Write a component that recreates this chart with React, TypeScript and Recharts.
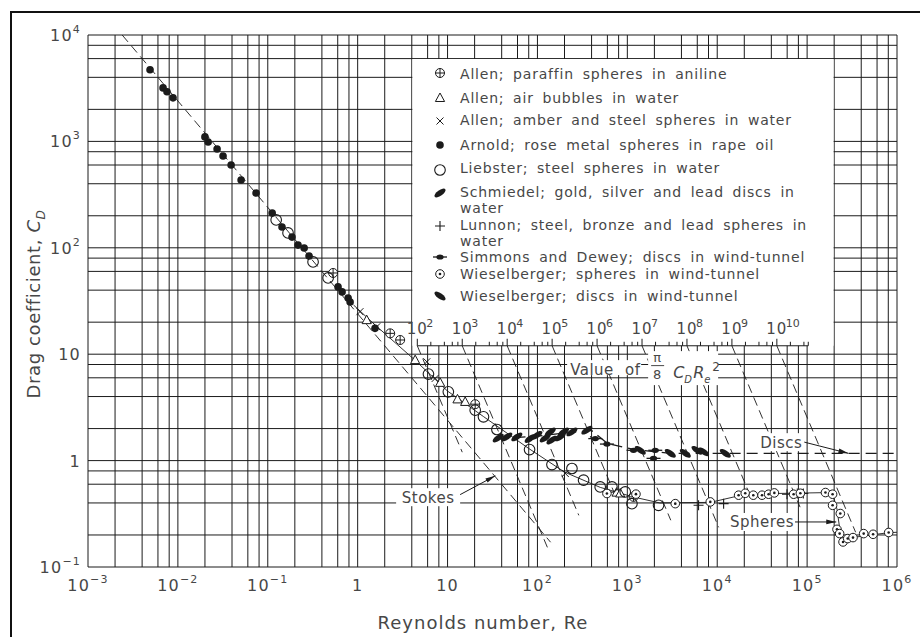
import React from "react";
import {
  ComposedChart,
  XAxis,
  YAxis,
  CartesianGrid,
  Scatter,
  Line,
  ReferenceArea,
  ReferenceLine,
  ReferenceDot,
} from "recharts";

const INK = "#1b1b1b";
const TEXT = "#474747";
const FONT = "'DejaVu Sans', sans-serif";

// axes
const xDecades = [1e-3, 1e-2, 1e-1, 1, 10, 1e2, 1e3, 1e4, 1e5, 1e6];
const yDecades = [1e-1, 1, 10, 1e2, 1e3, 1e4];
const gridSteps = [1, 2, 4, 6, 8];

// measured points, [Re, CD]
const allenParaffin = [[0.533, 58], [2.3, 15.7], [2.97, 13.6], [20.3, 3.39], [1172, 0.456]];
const allenBubbles = [[1.26, 20.9], [4.36, 8.8], [8.27, 5.38], [12.9, 3.76], [15.7, 3.56], [760, 0.5], [834, 0.491]];
const allenAmber = [[1.06, 25.1], [1.63, 18.1], [5.88, 8.49], [7.28, 5.92], [204, 0.757]];
const arnold = [
  [0.0049, 4710], [0.00684, 3184], [0.00757, 2924], [0.00883, 2565], [0.02, 1102], [0.0217, 988],
  [0.0273, 849], [0.0318, 729], [0.0391, 601], [0.0505, 434], [0.0741, 327], [0.112, 212],
  [0.144, 157], [0.186, 126], [0.217, 106], [0.254, 99.5], [0.288, 83.7], [0.605, 42.9],
  [0.671, 38.5], [0.783, 33.7], [0.824, 30.9], [1.56, 17.5],
];
const liebster = [
  [0.124, 183], [0.168, 138], [0.319, 73.6], [0.469, 52.1], [6.13, 6.5], [10.2, 4.43], [20.3, 2.98],
  [25.1, 2.58], [35.4, 1.96], [81.7, 1.27], [145, 0.918], [242, 0.843], [326, 0.655], [499, 0.566],
  [674, 0.566], [948, 0.508], [1125, 0.394], [2224, 0.38],
];
const schmiedel = [
  [36.6, 1.63], [45.6, 1.67], [59, 1.67], [83, 1.61], [98.6, 1.73], [122, 1.63], [139, 1.86],
  [145, 1.56], [179, 1.67], [195, 1.86], [242, 1.86], [355, 1.93],
];
const lunnon = [[6200, 0.38], [11780, 0.394], [59700, 0.483], [77800, 0.49], [90800, 0.49]];
const simmonsDewey = [[440, 1.61], [593, 1.43], [1172, 1.25], [1956, 1.05], [2045, 1.25]];
const wieselSpheres = [
  [593, 0.491], [1247, 0.484], [3413, 0.394], [8370, 0.409], [17300, 0.473], [20500, 0.493],
  [25200, 0.473], [31500, 0.473], [37300, 0.483], [43200, 0.497], [70800, 0.483], [84100, 0.493],
  [160000, 0.501], [192000, 0.483], [192000, 0.38], [234000, 0.318], [215000, 0.226], [230000, 0.206],
  [251000, 0.172], [283000, 0.185], [324000, 0.189], [426000, 0.206], [542000, 0.203], [808000, 0.211],
];
const wieselDiscs = [[1393, 1.25], [3006, 1.17], [4415, 1.17], [5960, 1.25], [7050, 1.21], [12300, 1.17]];

// curves
const stokesLine = [[0.0024, 10000], [140, 0.171]];
const sphereCurve = [
  [0.9, 29], [1.6, 18.5], [4.4, 8.7], [10, 4.5], [25, 2.6], [80, 1.3], [200, 0.78], [500, 0.56],
  [1170, 0.455], [2300, 0.4], [8400, 0.405], [18000, 0.47], [40000, 0.49], [160000, 0.5],
  [195000, 0.47], [215000, 0.35], [240000, 0.18], [330000, 0.19], [800000, 0.21], [1000000, 0.212],
];
const discCurve = [[36, 1.6], [100, 1.7], [250, 1.85], [400, 1.92], [600, 1.45], [1200, 1.27], [3000, 1.17], [1000000, 1.17]];

// lines of constant pi/8 CD Re^2, and the CD where each one stops
const piAxisCd = 12;
const piMajor = [1e2, 1e3, 1e4, 1e5, 1e6, 1e7, 1e8, 1e9, 1e10];
const piMinorSteps = [2, 4, 6, 8];
const piAxisEnd = 5e10;
const piLineEndCd = [1.2, 0.153, 0.306, 0.452, 0.275, 0.236, 0.424, 0.365, 0.212];

// annotations
const stokesArrow = [[12.2, 0.453], [34, 0.72]];
const spheresArrow = [[72000, 0.265], [211000, 0.265]];
const discsArrow = [[90800, 1.5], [288000, 1.17]];

const pts = (a: number[][]) => a.map(([re, cd]) => ({ re, cd }));
const reAtPi = (v: number, cd: number) => Math.sqrt((8 * v) / (Math.PI * cd));
const gridX = xDecades.flatMap((d) => gridSteps.map((s) => s * d)).filter((v) => v <= 1.0001e6);
const gridY = yDecades.flatMap((d) => gridSteps.map((s) => s * d)).filter((v) => v <= 1.0001e4);
const piMinor = piMajor.flatMap((d) => piMinorSteps.map((s) => s * d)).filter((v) => v < piAxisEnd);

const expText = (e: number) => (e < 0 ? "\u2212" + Math.abs(e) : String(e));
const powNodes = (e: number) => {
  if (e === 0) return "1";
  if (e === 1) return "10";
  return [
    <tspan key="b">10</tspan>,
    <tspan key="s" dy={-8} fontSize={11}>
      {expText(e)}
    </tspan>,
  ];
};

const XTick = ({ x, y, payload }: any) => (
  <text x={x} y={y + 24} textAnchor="middle" fontFamily={FONT} fontSize={16} letterSpacing={1.2} fill={TEXT}>
    {powNodes(Math.round(Math.log10(payload.value)))}
  </text>
);

const YTick = ({ x, y, payload }: any) => (
  <text x={x - 7} y={y + 6} textAnchor="end" fontFamily={FONT} fontSize={16} letterSpacing={1.2} fill={TEXT}>
    {powNodes(Math.round(Math.log10(payload.value)))}
  </text>
);

function Marker({ kind, cx, cy }: { kind: string; cx: number; cy: number }) {
  switch (kind) {
    case "oplus":
      return (
        <g>
          <circle cx={cx} cy={cy} r={4.5} fill="#fff" stroke={INK} />
          <path d={`M${cx - 4.5},${cy}H${cx + 4.5}M${cx},${cy - 4.5}V${cy + 4.5}`} stroke={INK} />
        </g>
      );
    case "tri":
      return <path d={`M${cx},${cy - 5}L${cx + 4.6},${cy + 3.5}L${cx - 4.6},${cy + 3.5}Z`} fill="#fff" stroke={INK} />;
    case "x":
      return <path d={`M${cx - 3.5},${cy - 3.5}L${cx + 3.5},${cy + 3.5}M${cx - 3.5},${cy + 3.5}L${cx + 3.5},${cy - 3.5}`} stroke={INK} />;
    case "dot":
      return <circle cx={cx} cy={cy} r={3.8} fill={INK} />;
    case "circle":
      return <circle cx={cx} cy={cy} r={5.3} fill="none" stroke={INK} strokeWidth={1.1} />;
    case "leafR":
      return <ellipse cx={cx} cy={cy} rx={6.5} ry={2.8} transform={`rotate(-35 ${cx} ${cy})`} fill={INK} />;
    case "plus":
      return <path d={`M${cx - 5},${cy}H${cx + 5}M${cx},${cy - 5}V${cy + 5}`} stroke={INK} strokeWidth={1.1} />;
    case "dash":
      return (
        <g>
          <path d={`M${cx - 7},${cy}H${cx + 7}`} stroke={INK} strokeWidth={1.3} />
          <ellipse cx={cx} cy={cy} rx={3.6} ry={2.6} fill={INK} />
        </g>
      );
    case "odot":
      return (
        <g>
          <circle cx={cx} cy={cy} r={4.3} fill="#fff" stroke={INK} />
          <circle cx={cx} cy={cy} r={1.3} fill={INK} />
        </g>
      );
    default:
      return <ellipse cx={cx} cy={cy} rx={6.5} ry={2.8} transform={`rotate(35 ${cx} ${cy})`} fill={INK} />;
  }
}

const shapeOf = (kind: string) => (p: any) => <Marker kind={kind} cx={p.cx} cy={p.cy} />;

const series = [
  { kind: "oplus", data: allenParaffin },
  { kind: "tri", data: allenBubbles },
  { kind: "x", data: allenAmber },
  { kind: "dot", data: arnold },
  { kind: "circle", data: liebster },
  { kind: "leafR", data: schmiedel },
  { kind: "plus", data: lunnon },
  { kind: "dash", data: simmonsDewey },
  { kind: "odot", data: wieselSpheres },
  { kind: "leafL", data: wieselDiscs },
];

const legendRows = [
  { kind: "oplus", my: 73, ty: [74], lines: ["Allen; paraffin spheres in aniline"] },
  { kind: "tri", my: 98, ty: [98], lines: ["Allen; air bubbles in water"] },
  { kind: "x", my: 121, ty: [120], lines: ["Allen; amber and steel spheres in water"] },
  { kind: "dot", my: 145, ty: [145], lines: ["Arnold; rose metal spheres in rape oil"] },
  { kind: "circle", my: 170, ty: [168], lines: ["Liebster; steel spheres in water"] },
  { kind: "leafR", my: 193, ty: [192, 208], lines: ["Schmiedel; gold, silver and lead discs in", "water"] },
  { kind: "plus", my: 226, ty: [225, 241], lines: ["Lunnon; steel, bronze and lead spheres in", "water"] },
  { kind: "dash", my: 257, ty: [257], lines: ["Simmons and Dewey; discs in wind-tunnel"] },
  { kind: "odot", my: 274, ty: [274], lines: ["Wieselberger; spheres in wind-tunnel"] },
  { kind: "leafL", my: 296, ty: [296], lines: ["Wieselberger; discs in wind-tunnel"] },
];

const Arrow = (p: any) => {
  const { x1, y1, x2, y2 } = p;
  const a = Math.atan2(y2 - y1, x2 - x1);
  const bx = x2 - 10 * Math.cos(a);
  const by = y2 - 10 * Math.sin(a);
  const s = 2.4 * Math.sin(a);
  const c = 2.4 * Math.cos(a);
  return (
    <g>
      <line x1={x1} y1={y1} x2={x2} y2={y2} stroke={INK} strokeWidth={1} />
      <polygon points={`${x2},${y2} ${bx + s},${by - c} ${bx - s},${by + c}`} fill={INK} />
    </g>
  );
};

const boxLabel = (text: string, w: number) => (p: any) => (
  <g>
    <rect x={p.cx - w / 2} y={p.cy - 9} width={w} height={18} fill="#fff" />
    <text x={p.cx} y={p.cy + 5.5} textAnchor="middle" fontFamily={FONT} fontSize={15} letterSpacing={0.5} fill={TEXT}>
      {text}
    </text>
  </g>
);

const valueLabel = (p: any) => {
  const { cx, cy } = p;
  const t = { fontFamily: FONT, fill: TEXT };
  return (
    <g>
      <rect x={cx - 3} y={cy - 9} width={74} height={15} fill="#fff" />
      <rect x={cx + 78} y={cy - 18} width={70} height={34} fill="#fff" />
      <text x={cx} y={cy + 5.5} fontSize={15} letterSpacing={0.5} wordSpacing={6} {...t}>
        Value of
      </text>
      <text x={cx + 87} y={cy - 7} fontSize={13} textAnchor="middle" {...t}>
        π
      </text>
      <line x1={cx + 81} x2={cx + 94} y1={cy - 3.5} y2={cy - 3.5} stroke={TEXT} />
      <text x={cx + 87} y={cy + 10} fontSize={13} textAnchor="middle" {...t}>
        8
      </text>
      <text x={cx + 103} y={cy + 9} fontSize={16} fontStyle="italic" {...t}>
        C
      </text>
      <text x={cx + 114} y={cy + 14} fontSize={10} fontStyle="italic" {...t}>
        D
      </text>
      <text x={cx + 123} y={cy + 9} fontSize={16} fontStyle="italic" {...t}>
        R
      </text>
      <text x={cx + 134} y={cy + 14} fontSize={10} fontStyle="italic" {...t}>
        e
      </text>
      <text x={cx + 142} y={cy + 2} fontSize={12} {...t}>
        2
      </text>
    </g>
  );
};

const piTick = (major: boolean, v: number) => (p: any) => {
  const { cx, cy } = p;
  return (
    <g>
      <line x1={cx} x2={cx} y1={cy} y2={cy - (major ? 7 : 4)} stroke={INK} />
      {major && (
        <>
          <text x={cx} y={cy - 12} textAnchor="middle" fontFamily={FONT} fontSize={15} letterSpacing={1} fill={TEXT}>
            10
          </text>
          <text x={cx + 9} y={cy - 19} fontFamily={FONT} fontSize={11} fill={TEXT}>
            {Math.round(Math.log10(v))}
          </text>
        </>
      )}
    </g>
  );
};

export default function App() {
  return (
    <div style={{ position: "absolute", left: 0, top: 0, width: 920, height: 637, background: "#fff", overflow: "hidden" }}>
      <ComposedChart width={920} height={637} margin={{ top: 35, right: 23, bottom: 40, left: 38 }}>
        <CartesianGrid stroke={INK} strokeWidth={1} verticalValues={gridX} horizontalValues={gridY} />
        <XAxis
          dataKey="re"
          type="number"
          scale="log"
          domain={[1e-3, 1e6]}
          ticks={xDecades}
          interval={0}
          allowDataOverflow
          height={30}
          tickLine={false}
          axisLine={false}
          tickSize={0}
          tickMargin={0}
          tick={<XTick />}
        />
        <YAxis
          dataKey="cd"
          type="number"
          scale="log"
          domain={[0.1, 1e4]}
          ticks={yDecades}
          interval={0}
          allowDataOverflow
          width={50}
          tickLine={false}
          axisLine={false}
          tickSize={0}
          tickMargin={0}
          tick={<YTick />}
        />

        {/* legend panel */}
        <ReferenceArea x1={4.06} x2={1.97e5} y1={piAxisCd} y2={5940} fill="#fff" fillOpacity={1} stroke="none" ifOverflow="visible" zIndex={-50} />

        <Line data={pts(stokesLine)} dataKey="cd" stroke={INK} strokeWidth={0.9} strokeDasharray="9 5" dot={false} activeDot={false} isAnimationActive={false} />
        <Line data={pts(sphereCurve)} dataKey="cd" stroke={INK} strokeWidth={0.9} dot={false} activeDot={false} isAnimationActive={false} />
        <Line data={pts(discCurve)} dataKey="cd" stroke={INK} strokeWidth={1.3} strokeDasharray="11 6" dot={false} activeDot={false} isAnimationActive={false} />
        {piMajor.map((v, i) => (
          <Line
            key={"pl" + v}
            data={[
              { re: reAtPi(v, piAxisCd), cd: piAxisCd },
              { re: reAtPi(v, piLineEndCd[i]), cd: piLineEndCd[i] },
            ]}
            dataKey="cd"
            stroke={INK}
            strokeWidth={0.9}
            strokeDasharray="9 5"
            dot={false}
            activeDot={false}
            isAnimationActive={false}
          />
        ))}

        {/* pi/8 CD Re^2 scale */}
        <ReferenceLine
          segment={[
            { x: reAtPi(piMajor[0], piAxisCd), y: piAxisCd },
            { x: reAtPi(piAxisEnd, piAxisCd), y: piAxisCd },
          ]}
          stroke={INK}
          ifOverflow="visible"
        />
        {piMajor.map((v) => (
          <ReferenceDot key={"pM" + v} x={reAtPi(v, piAxisCd)} y={piAxisCd} r={0} shape={piTick(true, v)} ifOverflow="visible" />
        ))}
        {[...piMinor, piAxisEnd].map((v) => (
          <ReferenceDot key={"pm" + v} x={reAtPi(v, piAxisCd)} y={piAxisCd} r={0} shape={piTick(false, v)} ifOverflow="visible" />
        ))}

        {series.map((s) => (
          <Scatter key={s.kind} data={pts(s.data)} dataKey="cd" shape={shapeOf(s.kind)} isAnimationActive={false} />
        ))}

        {/* annotations */}
        <ReferenceLine segment={pts(stokesArrow).map((p) => ({ x: p.re, y: p.cd }))} shape={Arrow} ifOverflow="visible" zIndex={700} />
        <ReferenceLine segment={pts(spheresArrow).map((p) => ({ x: p.re, y: p.cd }))} shape={Arrow} ifOverflow="visible" zIndex={700} />
        <ReferenceLine segment={pts(discsArrow).map((p) => ({ x: p.re, y: p.cd }))} shape={Arrow} ifOverflow="visible" zIndex={700} />
        <ReferenceDot x={6.08} y={0.453} r={0} shape={boxLabel("Stokes", 64)} ifOverflow="visible" zIndex={700} />
        <ReferenceDot x={31500} y={0.265} r={0} shape={boxLabel("Spheres", 66)} ifOverflow="visible" zIndex={700} />
        <ReferenceDot x={51600} y={1.49} r={0} shape={boxLabel("Discs", 46)} ifOverflow="visible" zIndex={700} />
        <ReferenceDot x={231} y={7.24} r={0} shape={valueLabel} ifOverflow="visible" zIndex={700} />
      </ComposedChart>

      <svg width={920} height={637} style={{ position: "absolute", left: 0, top: 0, pointerEvents: "none" }}>
        <rect x={11} y={12} width={912} height={640} fill="none" stroke="#111" strokeWidth={2} />
        <text x={483} y={629} textAnchor="middle" fontFamily={FONT} fontSize={18} letterSpacing={1} fill={TEXT}>
          Reynolds number, Re
        </text>
        <text transform="translate(40,304) rotate(-90)" textAnchor="middle" fontFamily={FONT} fontSize={18} letterSpacing={0.6} fill={TEXT}>
          Drag coefficient,{" "}
          <tspan fontStyle="italic">C</tspan>
          <tspan fontStyle="italic" fontSize={12} dy={5}>
            D
          </tspan>
        </text>
        {legendRows.map((r) => (
          <g key={r.kind}>
            <Marker kind={r.kind} cx={440} cy={r.my} />
            {r.lines.map((ln, i) => (
              <text key={i} x={460} y={r.ty[i] + 5} fontFamily={FONT} fontSize={14} letterSpacing={0.8} wordSpacing={3.5} fill={TEXT}>
                {ln}
              </text>
            ))}
          </g>
        ))}
      </svg>
    </div>
  );
}
